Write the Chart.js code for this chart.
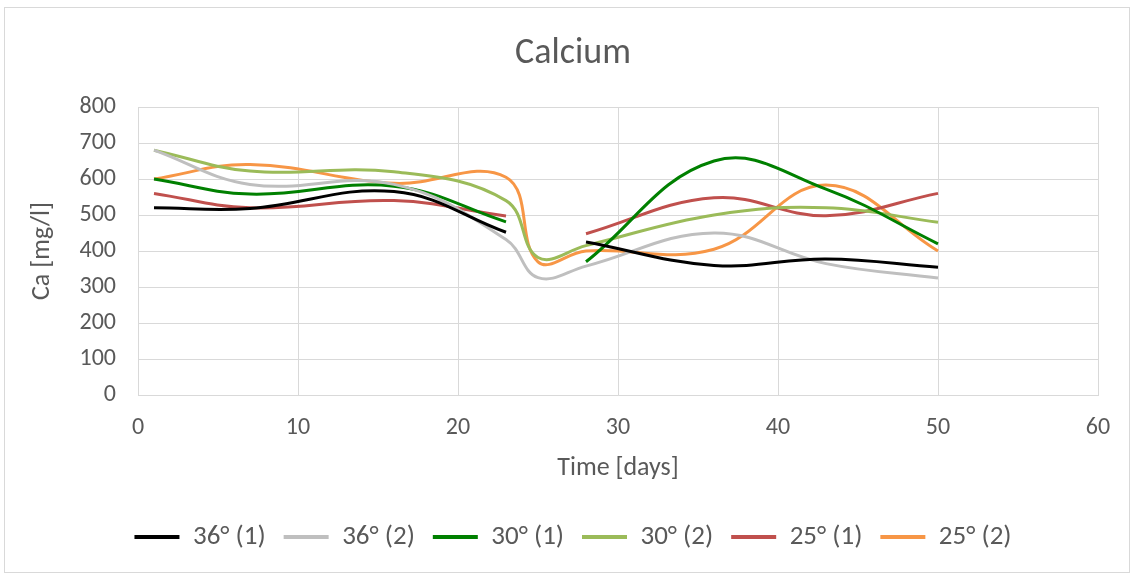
<!DOCTYPE html>
<html>
<head>
<meta charset="utf-8">
<script src="https://cdn.jsdelivr.net/npm/chart.js@4"></script>
<style>
  html, body { margin: 0; padding: 0; background: #fff; }
  #wrap { position: relative; width: 1136px; height: 574px; }
  #frame { position: absolute; left: 4px; top: 7px; width: 1124px; height: 564px; border: 1px solid #d9d9d9; pointer-events: none; }
</style>
</head>
<body>
<div id="wrap">
  <canvas id="caChart" width="1136" height="574"></canvas>
  <div id="frame"></div>
</div>
<script>
// sampling days (null values = no measurement for that run)
const days = [1, 7, 16, 23, 25, 28, 36, 43, 50];

const ca36_1 = [520, 518, 565, 452, null, 425, 360, 378, 355];
const ca36_2 = [680, 585, 585, 432, 326, 358, 450, 365, 325];
const ca30_1 = [600, 558, 580, 481, null, 370, 650, 572, 420];
const ca30_2 = [680, 622, 620, 540, 382, 415, 500, 520, 480];
const ca25_1 = [560, 520, 540, 497, null, 448, 548, 498, 560];
const ca25_2 = [600, 640, 588, 605, 370, 400, 405, 583, 400];

const seriesNames = ['36° (1)', '36° (2)', '30° (1)', '30° (2)', '25° (1)', '25° (2)'];
const seriesColors = ['#000000', '#bfbfbf', '#008000', '#9bbb59', '#c0504d', '#f79646'];
const seriesValues = [ca36_1, ca36_2, ca30_1, ca30_2, ca25_1, ca25_2];

const fontFamily = 'Carlito, Lato, sans-serif';
const textColor = '#595959';
const gridColor = '#d9d9d9';

const datasets = seriesValues.map((vals, i) => ({
    label: seriesNames[i],
    data: days.map((d, j) => ({ x: d, y: vals[j] })),
    borderColor: seriesColors[i],
    backgroundColor: seriesColors[i],
    borderWidth: 3,
    tension: 0.4,
    pointRadius: 0,
    fill: false
}));

const ctx = document.getElementById('caChart').getContext('2d');
const caChart = new Chart(ctx, {
    type: 'scatter',
    data: { datasets: datasets },
    options: {
        responsive: false,
        animation: false,
        showLine: true,
        layout: { padding: { left: 48, right: 38, top: 0, bottom: 13.5 } },
        plugins: {
            title: {
                display: true,
                text: 'Calcium',
                color: textColor,
                font: { family: fontFamily, size: 36, weight: 'normal' },
                padding: { top: 32, bottom: 31.8 }
            },
            legend: {
                position: 'bottom',
                labels: {
                    color: textColor,
                    font: { family: fontFamily, size: 27 },
                    boxWidth: 45,
                    boxHeight: 4,
                    padding: 18,
                    generateLabels: (chart) => {
                        const items = Chart.defaults.plugins.legend.labels.generateLabels(chart);
                        items.forEach(it => { it.lineWidth = 0; });
                        return items;
                    }
                }
            },
            tooltip: { enabled: false }
        },
        scales: {
            x: {
                type: 'linear',
                min: 0,
                max: 60,
                ticks: { stepSize: 10, color: textColor, padding: 18.6, font: { family: fontFamily, size: 24 } },
                grid: { color: gridColor, drawTicks: false },
                border: { color: gridColor },
                title: {
                    display: true,
                    text: 'Time [days]',
                    color: textColor,
                    font: { family: fontFamily, size: 26 },
                    padding: { top: 0, bottom: 21 }
                },
                afterFit: (scale) => { scale.height = 110.5; }
            },
            y: {
                min: 0,
                max: 800,
                ticks: { stepSize: 100, color: textColor, padding: 22, font: { family: fontFamily, size: 24 } },
                grid: { color: gridColor, drawTicks: false },
                border: { color: gridColor },
                title: {
                    display: true,
                    text: 'Ca [mg/l]',
                    color: textColor,
                    font: { family: fontFamily, size: 26 },
                    padding: { top: -21.6, bottom: 0 }
                },
                afterFit: (scale) => { scale.width = 90; }
            }
        }
    }
});
</script>
</body>
</html>
